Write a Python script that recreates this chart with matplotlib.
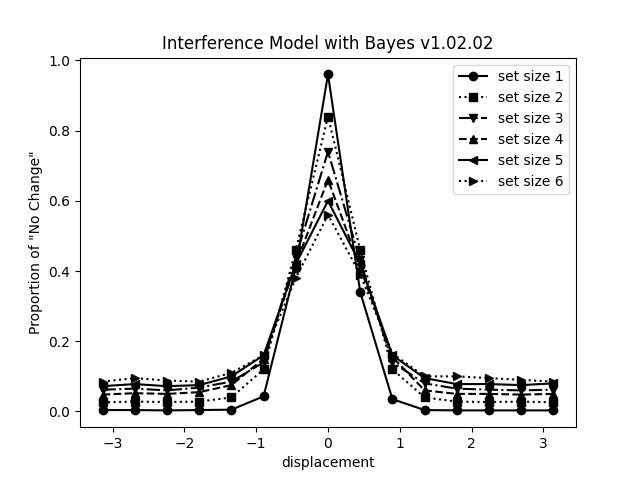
import numpy as np
import matplotlib
matplotlib.use("Agg")
import matplotlib.pyplot as plt

displacement = np.linspace(-np.pi, np.pi, 15)

set1 = [0.004, 0.004, 0.003, 0.004, 0.005, 0.043, 0.41, 0.96, 0.34, 0.035, 0.004, 0.003, 0.003, 0.003, 0.003]
set2 = [0.026, 0.028, 0.027, 0.028, 0.040, 0.120, 0.46, 0.84, 0.46, 0.120, 0.040, 0.028, 0.027, 0.028, 0.026]
set3 = [0.062, 0.065, 0.060, 0.068, 0.085, 0.140, 0.44, 0.74, 0.43, 0.140, 0.080, 0.065, 0.062, 0.060, 0.062]
set4 = [0.048, 0.052, 0.050, 0.055, 0.075, 0.150, 0.42, 0.66, 0.41, 0.155, 0.060, 0.050, 0.050, 0.048, 0.050]
set5 = [0.072, 0.078, 0.072, 0.075, 0.100, 0.160, 0.42, 0.60, 0.42, 0.160, 0.095, 0.078, 0.078, 0.075, 0.080]
set6 = [0.085, 0.095, 0.088, 0.085, 0.110, 0.160, 0.38, 0.56, 0.39, 0.165, 0.100, 0.100, 0.095, 0.090, 0.085]

series = [set1, set2, set3, set4, set5, set6]
labels = ["set size 1", "set size 2", "set size 3", "set size 4", "set size 5", "set size 6"]
markers = ["o", "s", "v", "^", "<", ">"]
styles = ["-", ":", "-.", "--", "-", ":"]

fig, ax = plt.subplots(figsize=(6.4, 4.8), dpi=100)
for y, lab, m, ls in zip(series, labels, markers, styles):
    ax.plot(displacement, y, color="black", marker=m, linestyle=ls, label=lab)

ax.set_title("Interference Model with Bayes v1.02.02")
ax.set_xlabel("displacement")
ax.set_ylabel('Proportion of "No Change"')
ax.legend(loc="upper right")
fig.savefig("out.png")
